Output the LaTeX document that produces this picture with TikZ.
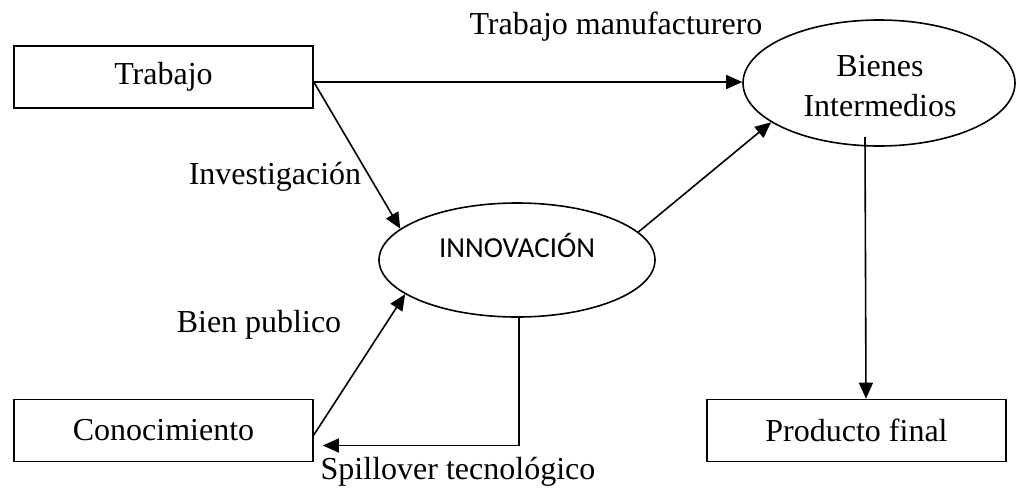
\documentclass[tikz,border=0pt]{standalone}
\usepackage{fontspec}
\setmainfont{Liberation Serif}
\newfontfamily\calfont{Carlito}
\usetikzlibrary{shapes.geometric,arrows.meta,calc}
\begin{document}
\begin{tikzpicture}[x=1pt,y=-1pt,
  every node/.style={font=\fontsize{32}{40}\selectfont},
  boxnode/.style={draw,line width=1.6pt,minimum width=299pt,minimum height=62pt,inner sep=0pt},
  ellnode/.style={draw,ellipse,line width=1.6pt,inner sep=0pt},
  arr/.style={line width=1.6pt,-{Triangle[length=16pt,width=14pt]}},
  lbl/.style={inner sep=0pt}]
\useasboundingbox (0,0) rectangle (1017,488);
\node[boxnode] (trab) at (163.5,77) {Trabajo};
\node[boxnode] (con) at (163.5,430.5) {Conocimiento};
\node[boxnode] (prod) at (856.5,430.5) {Producto final};
\node[ellnode,minimum width=272pt,minimum height=126pt] (bien) at (879,83) {};
\node[lbl,align=center] (bientxt) at (880,86) {Bienes\\Intermedios};
\node[ellnode,minimum width=276pt,minimum height=114pt] (innov) at (517,260) {};
\node[lbl,font=\calfont\fontsize{29}{34}\selectfont] (innovtxt) at (517,245) {INNOVACIÓN};
\node[lbl] (l1) at (616,27) {Trabajo manufacturero};
\node[lbl] (l2) at (275,177) {Investigación};
\node[lbl] (l3) at (259,325) {Bien publico};
\node[lbl] (l4) at (458,472) {Spillover tecnológico};
\coordinate (tc) at ($(trab.east)+(0,5)$);
\draw[arr] (tc) -- (bien.west |- tc);
\draw[arr] (tc) -- (innov.165);
\draw[arr] ($(con.east)+(0,4.5)$) -- (innov.197);
\draw[arr] (innov.13) -- (bien.200);
\draw[arr] ($(bien.center)+(-14,54)$) -- ($(prod.north)+(9.5,0)$);
\draw[arr] ($(innov.south)+(2,0)$) |- ($(con.east)+(9,15)$);
\end{tikzpicture}
\end{document}
